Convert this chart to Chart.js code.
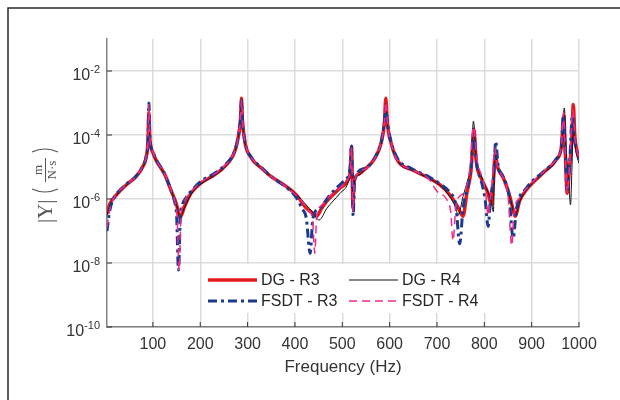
<!DOCTYPE html>
<html>
<head>
    <title>FRF comparison</title>
    <style>
        body {
            margin: 0;
            padding: 0;
            background: #fff;
        }
        #chart {
            display: block;
        }
    </style>
</head>
<body>
    <canvas id="chart" width="620" height="400"></canvas>

    <script src="https://cdn.jsdelivr.net/npm/chart.js"></script>
    <script>
        // ticks
        var xTicks = [100, 200, 300, 400, 500, 600, 700, 800, 900, 1000];
        var yTicks = [1e-10, 1e-8, 1e-6, 1e-4, 1e-2];

        // DG - R3
        var dgR3Freq = [3, 9, 23, 44, 65, 79, 86, 89.5, 91.5, 93.5, 100, 108, 125, 139, 150, 157, 167, 181, 202, 231, 252, 273, 281, 285, 287, 289, 294, 308, 329, 350, 382, 403, 424, 437, 446, 456, 467, 495, 512, 517, 519.5, 521, 522.5, 525, 535, 547, 569, 583, 589, 592, 595, 604, 618, 646, 682, 706, 727, 743, 755, 763, 772, 778, 783, 795, 808, 815, 819, 823, 828, 840, 852, 859, 865, 875, 889, 924, 952, 963, 968, 971, 975, 980, 985, 988, 991, 995, 1000];
        var dgR3Mag = [3.5e-7, 7e-7, 1.35e-6, 2.8e-6, 5.1e-6, 1.05e-5, 2.1e-5, 6e-5, 5e-4, 8e-5, 2.8e-5, 1.5e-5, 5.8e-6, 1.75e-6, 6.6e-7, 2.6e-7, 5.9e-7, 1.55e-6, 3.2e-6, 5.8e-6, 1.05e-5, 3.1e-5, 1e-4, 3e-4, 1.4e-3, 3e-4, 6.3e-5, 1.9e-5, 9.3e-6, 5e-6, 2.45e-6, 1.35e-6, 5.2e-7, 3.6e-7, 2.9e-7, 5e-7, 8.5e-7, 2.2e-6, 4e-6, 8e-6, 4.4e-5, 5e-6, 5.9e-7, 3.5e-6, 6e-6, 8.3e-6, 1.9e-5, 6.3e-5, 2.5e-4, 1.4e-3, 2.5e-4, 5e-5, 1.5e-5, 8.3e-6, 4.6e-6, 2.8e-6, 1.35e-6, 6e-7, 2.9e-7, 1.5e-6, 8e-6, 1.5e-4, 1.5e-5, 4e-6, 1.5e-6, 6.6e-7, 3e-6, 2.5e-5, 1e-5, 4.6e-6, 1.5e-6, 6e-7, 2.9e-7, 9e-7, 1.95e-6, 6.5e-6, 1.7e-5, 4.4e-5, 4e-4, 3e-5, 1.5e-6, 1e-5, 8e-5, 9e-4, 1e-4, 3.5e-5, 1.8e-5];

        // DG - R4
        var dgR4Freq = [3, 9, 23, 44, 65, 79, 86, 89.5, 91.5, 93.5, 100, 108, 125, 139, 150, 157, 167, 181, 202, 231, 252, 273, 281, 285, 287, 289, 294, 308, 329, 350, 382, 403, 424, 437, 451, 467, 495, 512, 517, 519.5, 521, 522.5, 525, 535, 547, 569, 583, 589, 592, 595, 604, 618, 646, 682, 706, 727, 738, 745, 755, 765, 772, 777, 783, 795, 808, 815, 819, 823, 828, 840, 852, 859, 865, 875, 889, 924, 952, 963, 969, 973, 978, 982, 985, 988, 991, 995, 1000];
        var dgR4Mag = [3e-7, 6.5e-7, 1.3e-6, 2.7e-6, 5e-6, 1e-5, 2e-5, 5.5e-5, 3e-4, 7.5e-5, 2.7e-5, 1.45e-5, 5.5e-6, 1.7e-6, 6.4e-7, 2.8e-7, 5.5e-7, 1.45e-6, 3e-6, 5.6e-6, 1e-5, 3e-5, 9.5e-5, 2.8e-4, 1.1e-3, 2.8e-4, 6e-5, 1.85e-5, 9e-6, 5e-6, 2.5e-6, 1.4e-6, 6.5e-7, 4e-7, 2.2e-7, 5e-7, 1.5e-6, 3.2e-6, 7e-6, 4e-5, 5e-6, 6.5e-7, 3.2e-6, 5.6e-6, 8e-6, 1.8e-5, 6e-5, 2.4e-4, 1e-3, 2.4e-4, 4.8e-5, 1.45e-5, 8e-6, 4.5e-6, 2.7e-6, 1.2e-6, 6e-7, 3.2e-7, 1.2e-6, 4e-6, 1.2e-5, 2.7e-4, 1.8e-5, 4.5e-6, 1.6e-6, 8e-7, 4e-7, 3e-5, 1e-5, 4.4e-6, 1.4e-6, 6e-7, 2.9e-7, 8.5e-7, 1.9e-6, 6.3e-6, 1.6e-5, 4.5e-5, 7e-4, 3e-5, 5e-6, 6.6e-7, 8e-6, 2e-4, 6e-5, 2.5e-5, 1.3e-5];

        // FSDT - R3
        var fsdtR3Freq = [3, 9, 23, 44, 65, 79, 86, 89.5, 91.5, 93.5, 100, 108, 125, 139, 146, 150, 154, 158, 162, 170, 181, 202, 231, 252, 273, 281, 285, 287, 289, 294, 308, 329, 350, 382, 403, 415, 424, 432, 438, 453, 474, 502, 516, 519.5, 521.5, 523, 526, 547, 569, 583, 589, 592, 595, 604, 618, 646, 682, 706, 727, 740, 748, 755, 765, 772, 778, 783, 795, 802, 808, 813, 820, 824, 829, 840, 852, 861, 868, 889, 924, 952, 963, 967, 971, 975, 980, 986, 990, 995, 1000];
        var fsdtR3Mag = [1e-7, 4.5e-7, 1.4e-6, 2.9e-6, 5.3e-6, 1.1e-5, 2.2e-5, 6.5e-5, 1e-3, 9e-5, 3e-5, 1.6e-5, 6e-6, 1.7e-6, 8e-7, 3e-7, 6e-9, 3e-7, 6.5e-7, 1.1e-6, 1.8e-6, 3.6e-6, 6.5e-6, 1.15e-5, 3.3e-5, 1.05e-4, 3.2e-4, 1.2e-3, 3.2e-4, 6.6e-5, 2e-5, 9.8e-6, 5e-6, 2.3e-6, 1.1e-6, 5e-7, 2.5e-7, 2e-8, 2.5e-7, 5.2e-7, 1.35e-6, 3.5e-6, 8.3e-6, 4.5e-5, 3e-6, 3e-7, 4e-6, 9e-6, 2e-5, 7e-5, 2.6e-4, 7e-4, 2.6e-4, 5.5e-5, 1.7e-5, 9e-6, 5e-6, 3e-6, 1.6e-6, 6e-7, 4e-8, 5e-7, 2.5e-6, 1e-5, 1e-4, 1.5e-5, 3e-6, 9e-7, 1.4e-7, 1e-6, 6e-6, 6.3e-5, 1.2e-5, 5e-6, 1.3e-6, 6e-8, 5e-7, 2.2e-6, 7e-6, 1.8e-5, 5e-5, 4e-4, 3e-5, 2e-6, 1.2e-5, 4e-4, 8e-5, 3.5e-5, 1.7e-5];

        // FSDT - R4
        var fsdtR4Freq = [3, 9, 23, 44, 65, 79, 86, 89.5, 91.5, 93.5, 100, 108, 125, 139, 147, 151, 155.5, 159, 163, 170, 181, 202, 231, 252, 273, 281, 285, 287, 289, 294, 308, 329, 350, 382, 403, 420, 430, 437, 442, 446, 455, 467, 495, 512, 517, 519.5, 521, 522.5, 525, 547, 569, 583, 589, 592, 595, 604, 618, 646, 682, 700, 720, 729, 734, 740, 750, 759, 770, 777, 785, 795, 803, 808, 813, 818, 822, 827, 840, 850, 858, 863, 875, 889, 924, 952, 963, 967, 971, 975, 980, 987, 991, 995, 1000];
        var fsdtR4Mag = [1.3e-7, 5e-7, 1.4e-6, 2.8e-6, 5.2e-6, 1.1e-5, 2.2e-5, 6.2e-5, 9e-4, 8.5e-5, 2.9e-5, 1.55e-5, 5.9e-6, 1.75e-6, 7.5e-7, 2.8e-7, 6e-9, 2.6e-7, 6e-7, 1.05e-6, 1.7e-6, 3.4e-6, 6.2e-6, 1.1e-5, 3.2e-5, 1e-4, 3e-4, 1.2e-3, 3e-4, 6.4e-5, 1.95e-5, 9.5e-6, 5e-6, 2.4e-6, 1.3e-6, 7e-7, 4e-7, 2.5e-7, 2e-8, 3e-7, 6e-7, 1e-6, 2.3e-6, 4.2e-6, 8e-6, 4e-5, 4.5e-6, 4e-7, 3.5e-6, 8.5e-6, 1.9e-5, 6.4e-5, 2.5e-4, 1.1e-3, 2.5e-4, 5e-5, 1.5e-5, 8.2e-6, 4.3e-6, 1.75e-6, 1e-6, 4e-7, 5e-8, 6e-7, 1.3e-6, 1.75e-6, 1e-5, 1.8e-4, 1.5e-5, 5e-6, 1.5e-6, 3e-7, 1.2e-6, 6e-6, 4e-5, 1.2e-5, 4.5e-6, 1.3e-6, 3.5e-8, 4e-7, 1.1e-6, 2.1e-6, 6.8e-6, 1.75e-5, 4.8e-5, 5e-4, 3e-5, 1.5e-6, 1.1e-5, 6e-4, 9e-5, 3.5e-5, 1.8e-5];

        var seriesNames = ['DG - R3', 'DG - R4', 'FSDT - R3', 'FSDT - R4'];

        function pairs(fs, ms) {
            var out = [];
            for (var i = 0; i < fs.length; i++) {
                out.push({ x: fs[i], y: ms[i] });
            }
            return out;
        }

        var FONT = "'Liberation Sans', Arial, sans-serif";
        var SERIF = '"Liberation Serif", "Times New Roman", serif';

        // white page + the dark frame on the left/top
        var framePlugin = {
            id: 'frame',
            beforeDraw: function(chart) {
                var ctx = chart.ctx;
                ctx.save();
                ctx.fillStyle = '#fff';
                ctx.fillRect(0, 0, chart.width, chart.height);
                ctx.strokeStyle = '#2b2b2b';
                ctx.lineWidth = 1.5;
                ctx.beginPath();
                ctx.moveTo(8, 400);
                ctx.lineTo(8, 8);
                ctx.lineTo(620, 8);
                ctx.stroke();
                ctx.restore();
            }
        };

        // inward ticks, y labels with exponents, y title, legend
        var decorPlugin = {
            id: 'decor',
            afterDraw: function(chart) {
                var ctx = chart.ctx;
                var xs = chart.scales.x, ys = chart.scales.y;
                var area = chart.chartArea;
                ctx.save();

                // inward tick marks
                ctx.strokeStyle = '#333';
                ctx.lineWidth = 1;
                ctx.beginPath();
                xTicks.forEach(function(v) {
                    var px = xs.getPixelForValue(v);
                    ctx.moveTo(px, area.bottom);
                    ctx.lineTo(px, area.bottom - 5);
                });
                yTicks.forEach(function(v) {
                    var py = ys.getPixelForValue(v);
                    ctx.moveTo(area.left, py);
                    ctx.lineTo(area.left + 5, py);
                });
                ctx.stroke();

                // y tick labels: 10^n
                ctx.fillStyle = '#333';
                ctx.textBaseline = 'alphabetic';
                yTicks.forEach(function(v) {
                    var py = ys.getPixelForValue(v);
                    var exp = String(Math.round(Math.log10(v)));
                    ctx.font = '11px ' + FONT;
                    ctx.textAlign = 'right';
                    ctx.fillText(exp, 100, py + 2);
                    var ew = ctx.measureText(exp).width;
                    ctx.font = '16px ' + FONT;
                    ctx.fillText('10', 100 - ew, py + 8.5);
                });

                // y axis title |Y| ( m / N.s )
                ctx.translate(45, 184);
                ctx.rotate(-Math.PI / 2);
                ctx.fillStyle = '#555';
                ctx.strokeStyle = '#555';
                ctx.textBaseline = 'middle';
                ctx.textAlign = 'left';
                ctx.font = '21px ' + SERIF;
                ctx.fillText('|Y|', -39, 1);
                // parens
                ctx.lineWidth = 1.2;
                ctx.beginPath();
                ctx.moveTo(-5, -13);
                ctx.quadraticCurveTo(-11, 0, -5, 13);
                ctx.moveTo(32, -13);
                ctx.quadraticCurveTo(38, 0, 32, 13);
                ctx.stroke();
                // fraction
                ctx.textAlign = 'center';
                ctx.font = '13px ' + SERIF;
                ctx.fillText('m', 14, -6.5);
                ctx.fillText('N\u00b7s', 14, 7.5);
                ctx.lineWidth = 1;
                ctx.beginPath();
                ctx.moveTo(2, 0.5);
                ctx.lineTo(26, 0.5);
                ctx.stroke();
                ctx.setTransform(1, 0, 0, 1, 0, 0);

                // legend
                ctx.fillStyle = '#fff';
                ctx.fillRect(204, 264, 284, 49);
                var colX = [208, 349];
                var rowY = [280, 301];
                chart.data.datasets.forEach(function(ds, i) {
                    var x0 = colX[i % 2], y0 = rowY[Math.floor(i / 2)];
                    ctx.strokeStyle = ds.borderColor;
                    ctx.lineWidth = ds.borderWidth;
                    ctx.setLineDash(ds.borderDash || []);
                    ctx.beginPath();
                    ctx.moveTo(x0, y0);
                    ctx.lineTo(x0 + 49, y0);
                    ctx.stroke();
                    ctx.setLineDash([]);
                    ctx.fillStyle = '#262626';
                    ctx.font = '16px ' + FONT;
                    ctx.textAlign = 'left';
                    ctx.textBaseline = 'middle';
                    ctx.fillText(ds.label, x0 + 53, y0 + 1);
                });

                ctx.restore();
            }
        };

        var ctx = document.getElementById('chart').getContext('2d');
        new Chart(ctx, {
            type: 'line',
            data: {
                datasets: [{
                    label: seriesNames[0],
                    data: pairs(dgR3Freq, dgR3Mag),
                    borderColor: '#e3191c',
                    borderWidth: 3.5,
                    order: 3
                }, {
                    label: seriesNames[1],
                    data: pairs(dgR4Freq, dgR4Mag),
                    borderColor: '#111111',
                    borderWidth: 1,
                    order: 2
                }, {
                    label: seriesNames[2],
                    data: pairs(fsdtR3Freq, fsdtR3Mag),
                    borderColor: '#1b3a8e',
                    borderWidth: 3,
                    borderDash: [9, 4, 3, 4],
                    order: 1
                }, {
                    label: seriesNames[3],
                    data: pairs(fsdtR4Freq, fsdtR4Mag),
                    borderColor: '#ee2a8c',
                    borderWidth: 1.5,
                    borderDash: [8, 5],
                    order: 0
                }]
            },
            options: {
                responsive: false,
                animation: false,
                events: [],
                layout: { padding: { left: 0, top: 39, right: 41, bottom: 0 } },
                elements: {
                    point: { radius: 0 },
                    line: { cubicInterpolationMode: 'monotone', fill: false, borderJoinStyle: 'round' }
                },
                plugins: {
                    legend: { display: false },
                    tooltip: { enabled: false }
                },
                scales: {
                    x: {
                        type: 'linear',
                        min: 3,
                        max: 1000,
                        afterFit: function(s) { s.height = 73; },
                        afterBuildTicks: function(s) {
                            s.ticks = xTicks.map(function(v) { return { value: v }; });
                        },
                        grid: { color: '#dcdcdc', lineWidth: 1.5, drawTicks: false },
                        border: { color: '#808080', width: 1.5 },
                        ticks: {
                            color: '#333',
                            font: { family: FONT, size: 16 },
                            padding: 8,
                            maxRotation: 0,
                            callback: function(v) { return String(v); }
                        },
                        title: {
                            display: true,
                            text: 'Frequency (Hz)',
                            color: '#333',
                            font: { family: FONT, size: 17 },
                            padding: { top: 0, bottom: 22 }
                        }
                    },
                    y: {
                        type: 'logarithmic',
                        min: 1e-10,
                        max: 1e-1,
                        afterFit: function(s) { s.width = 107; },
                        afterBuildTicks: function(s) {
                            s.ticks = yTicks.map(function(v) { return { value: v }; });
                        },
                        grid: { color: '#dcdcdc', lineWidth: 1.5, drawTicks: false },
                        border: { color: '#808080', width: 1.5 },
                        ticks: { display: false }
                    }
                }
            },
            plugins: [framePlugin, decorPlugin]
        });
    </script>
</body>
</html>
